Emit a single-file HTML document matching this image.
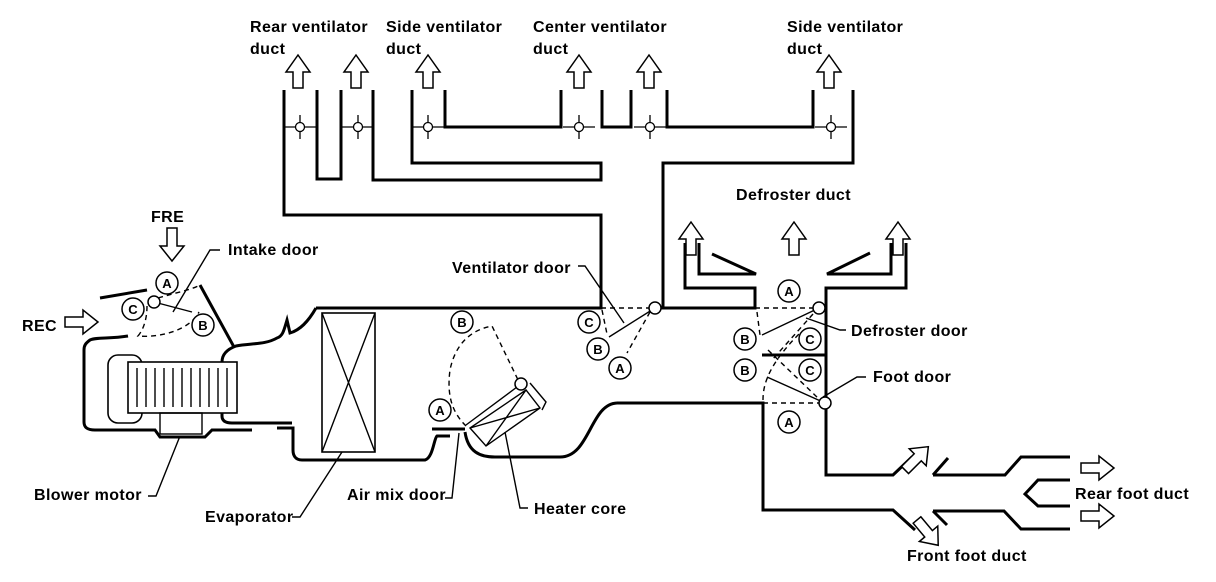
<!DOCTYPE html>
<html><head><meta charset="utf-8"><style>
html,body{margin:0;padding:0;background:#fff}
svg{display:block}
text{font-family:"Liberation Sans",Arial,sans-serif;font-size:16px;font-weight:bold;fill:#000;letter-spacing:0.4px}
.c{font-size:13px;text-anchor:middle;letter-spacing:0}
</style></head><body>
<svg width="1216" height="582" viewBox="0 0 1216 582" xmlns="http://www.w3.org/2000/svg">
<defs>
<g id="ua"><path d="M0,0 L12,17 L5,17 L5,33 L-5,33 L-5,17 L-12,17 Z" fill="#fff" stroke="#000" stroke-width="1.5"/></g>
<g id="dm"><path d="M-16,0 H16 M0,-12 V12" stroke="#000" stroke-width="1.3"/><circle r="4.5" fill="#fff" stroke="#000" stroke-width="1.3"/></g>
<g id="ra"><path d="M0,-5 H18 V-12 L33,0 L18,12 V5 H0 Z" fill="#fff" stroke="#000" stroke-width="1.5"/></g>
</defs>
<g fill="none" stroke="#000" stroke-width="3" stroke-linejoin="miter">
<path d="M284,90 V215 H601 V308 H318"/>
<path d="M317,90 V179 H341 V90"/>
<path d="M373,90 V180 H601 V163 H412 V90"/>
<path d="M445,90 V127 H561 V90"/>
<path d="M602,90 V127 H631 V90"/>
<path d="M667,90 V127 H813 V90"/>
<path d="M853,90 V163 H663 V308 H755 V288 H685 V243"/>
<path d="M699,243 V274 H756 L712,254"/>
<path d="M891,243 V274 H827 L870,253"/>
<path d="M906,243 V288 H826 V475 H893 L912,457"/>
<path d="M762,355 H826"/>
<path d="M933,475 L948,458 M933,475 H1005 L1021,457 H1070"/>
<path d="M617,403 H763 V510 H893 L915,530"/>
<path d="M933,511 L947,525 M933,511 H1004 L1021,529 H1070"/>
<path d="M1070,480 H1038 L1025,494 L1038,506 H1070"/>
<path d="M465,432 C468,452 480,457 495,457 H560 C590,457 590,404 617,403"/>
<path d="M432,429 H465"/>
<path d="M450,436 H437 C434,438 433,458 425,460 H302 C295,460 293,455 293,450 V428 H277"/>
<path d="M316,308 H601"/>
<path d="M316,308 C308,322 300,330 290,333 L287,320 C284,330 283,336 277,338 C265,345 250,343 236,346 C225,350 222,356 222,362 V416 C222,421 226,423 232,423 H292"/>
<path d="M200,285 L234,347"/>
<path d="M100,298 L147,290"/>
<path d="M128,336 C110,339 96,337 90,340 C86,343 84,345 84,350 V422 C84,428 88,430 95,430 H155 L160,437 H205 L212,430 H252"/>
</g>
<g fill="none" stroke="#000" stroke-width="1.4">
<rect x="108" y="355" width="34" height="68" rx="10" fill="#fff" stroke-width="1.6"/>
<rect x="128" y="362" width="109" height="51" fill="#fff" stroke-width="1.6"/>
<path d="M137,368 V407 M146,368 V407 M155,368 V407 M164,368 V407 M173,368 V407 M182,368 V407 M191,368 V407 M200,368 V407 M209,368 V407 M218,368 V407 M227,368 V407"/>
<rect x="160" y="413" width="42" height="21"/>
<rect x="322" y="313" width="53" height="139" stroke-width="1.6"/>
<path d="M322,313 L375,452 M375,313 L322,452"/>
<path d="M470,428 L486,446 L540,408 L526,390 Z M470,428 L540,408 M486,446 L526,390 M530,383 L546,402 L542,410"/>
<path d="M154,302 L192,312"/>
<path d="M466,425 L521,384"/>
<path d="M655,308 L609,337"/>
<path d="M819,308 L762,335"/>
<path d="M825,403 L767,377"/>
<path d="M173,312 L210,250 H220"/>
<path d="M578,266 H585 L624,323"/>
<path d="M806,318 L840,330 H846"/>
<path d="M823,397 L857,377 H866"/>
<path d="M180,436 L156,496 H148"/>
<path d="M342,452 L300,517 H292"/>
<path d="M459,433 L452,498 H445"/>
<path d="M505,432 L520,508 H528"/>
</g>
<g fill="none" stroke="#000" stroke-width="1.4" stroke-dasharray="5,4">
<path d="M147,306 C147,320 143,330 138,336 C160,338 190,330 199,312"/>
<path d="M158,298 C175,293 190,290 198,286"/>
<path d="M466,426 C455,415 446,400 450,370 C455,345 470,330 492,326 L520,384"/>
<path d="M601,308 H650 M602,310 L607,334 M650,312 L627,353"/>
<path d="M755,308 H813 M757,312 L760,335 M813,314 L772,360"/>
<path d="M763,400 C763,385 768,365 800,333 M768,350 L820,400 M763,403 H820"/>
</g>
<g fill="#fff" stroke="#000" stroke-width="1.5">
<circle cx="154" cy="302" r="6"/><circle cx="521" cy="384" r="6"/>
<circle cx="655" cy="308" r="6"/><circle cx="819" cy="308" r="6"/><circle cx="825" cy="403" r="6"/>
</g>
<use href="#ua" x="298" y="55"/><use href="#ua" x="356" y="55"/><use href="#ua" x="428" y="55"/>
<use href="#ua" x="579" y="55"/><use href="#ua" x="649" y="55"/><use href="#ua" x="829" y="55"/>
<use href="#ua" x="691" y="222"/><use href="#ua" x="794" y="222"/><use href="#ua" x="898" y="222"/>
<use href="#dm" x="300" y="127"/><use href="#dm" x="358" y="127"/><use href="#dm" x="428" y="127"/>
<use href="#dm" x="579" y="127"/><use href="#dm" x="650" y="127"/><use href="#dm" x="831" y="127"/>
<use href="#ra" x="1081" y="468"/><use href="#ra" x="1081" y="516"/>
<use href="#ra" x="65" y="322"/>
<g transform="translate(172,228) rotate(90)"><path d="M0,-5 H18 V-12 L33,0 L18,12 V5 H0 Z" fill="#fff" stroke="#000" stroke-width="1.5"/></g>
<g transform="translate(905,470) rotate(-45)"><path d="M0,-5 H18 V-12 L33,0 L18,12 V5 H0 Z" fill="#fff" stroke="#000" stroke-width="1.5"/></g>
<g transform="translate(917,520) rotate(50)"><path d="M0,-5 H18 V-12 L33,0 L18,12 V5 H0 Z" fill="#fff" stroke="#000" stroke-width="1.5"/></g>
<g fill="#fff" stroke="#000" stroke-width="1.5">
<circle cx="167" cy="283" r="11"/><circle cx="133" cy="309" r="11"/><circle cx="203" cy="325" r="11"/>
<circle cx="462" cy="322" r="11"/><circle cx="440" cy="410" r="11"/>
<circle cx="589" cy="322" r="11"/><circle cx="598" cy="349" r="11"/><circle cx="620" cy="368" r="11"/>
<circle cx="789" cy="291" r="11"/><circle cx="745" cy="339" r="11"/><circle cx="810" cy="339" r="11"/>
<circle cx="745" cy="370" r="11"/><circle cx="810" cy="370" r="11"/><circle cx="789" cy="422" r="11"/>
</g>
<text class="c" x="167" y="288">A</text><text class="c" x="133" y="314">C</text><text class="c" x="203" y="330">B</text>
<text class="c" x="462" y="327">B</text><text class="c" x="440" y="415">A</text>
<text class="c" x="589" y="327">C</text><text class="c" x="598" y="354">B</text><text class="c" x="620" y="373">A</text>
<text class="c" x="789" y="296">A</text><text class="c" x="745" y="344">B</text><text class="c" x="810" y="344">C</text>
<text class="c" x="745" y="375">B</text><text class="c" x="810" y="375">C</text><text class="c" x="789" y="427">A</text>
<text x="250" y="32">Rear ventilator</text><text x="250" y="54">duct</text>
<text x="386" y="32">Side ventilator</text><text x="386" y="54">duct</text>
<text x="533" y="32">Center ventilator</text><text x="533" y="54">duct</text>
<text x="787" y="32">Side ventilator</text><text x="787" y="54">duct</text>
<text x="736" y="200">Defroster duct</text>
<text x="151" y="222">FRE</text>
<text x="228" y="255">Intake door</text>
<text x="22" y="331">REC</text>
<text x="452" y="273">Ventilator door</text>
<text x="851" y="336">Defroster door</text>
<text x="873" y="382">Foot door</text>
<text x="34" y="500">Blower motor</text>
<text x="205" y="522">Evaporator</text>
<text x="347" y="500">Air mix door</text>
<text x="534" y="514">Heater core</text>
<text x="1075" y="499">Rear foot duct</text>
<text x="907" y="561">Front foot duct</text>
</svg>
</body></html>
